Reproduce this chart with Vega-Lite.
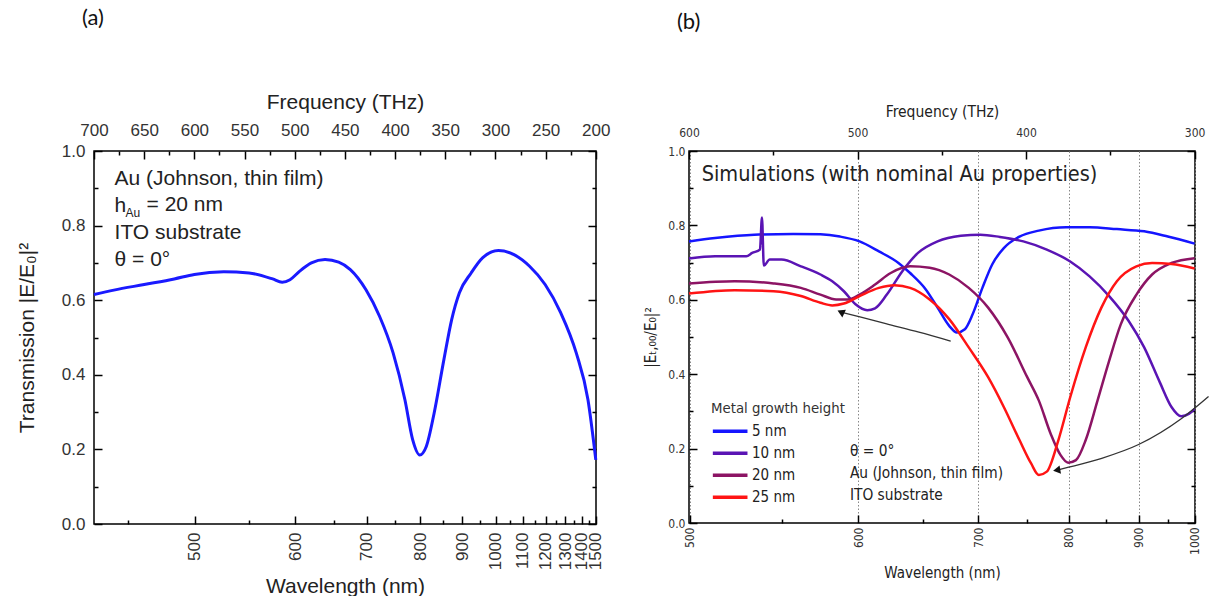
{
  "$schema": "https://vega.github.io/schema/vega-lite/v6.json",
  "padding": {"left": 15, "top": 6, "right": 0, "bottom": 0},
  "background": "white",
  "datasets": {
    "a": [
      {"f": 700, "T": 0.615}, {"f": 680.2, "T": 0.627}, {"f": 650, "T": 0.642}, {"f": 620, "T": 0.657},
      {"f": 600, "T": 0.669}, {"f": 570.7, "T": 0.676}, {"f": 545.5, "T": 0.673}, {"f": 522, "T": 0.657},
      {"f": 512.5, "T": 0.648}, {"f": 504.7, "T": 0.655}, {"f": 495, "T": 0.678}, {"f": 483.4, "T": 0.7},
      {"f": 469.8, "T": 0.709}, {"f": 456.2, "T": 0.702}, {"f": 444.6, "T": 0.682}, {"f": 429, "T": 0.628},
      {"f": 415.5, "T": 0.557}, {"f": 401.9, "T": 0.458}, {"f": 390.2, "T": 0.333}, {"f": 382.5, "T": 0.226},
      {"f": 375.5, "T": 0.185}, {"f": 368.9, "T": 0.208}, {"f": 361.1, "T": 0.297}, {"f": 351.4, "T": 0.44},
      {"f": 343.6, "T": 0.548}, {"f": 335.9, "T": 0.62}, {"f": 324.2, "T": 0.673}, {"f": 312.6, "T": 0.714},
      {"f": 297, "T": 0.733}, {"f": 281.5, "T": 0.722}, {"f": 266, "T": 0.691}, {"f": 250.5, "T": 0.642},
      {"f": 234.9, "T": 0.566}, {"f": 219.4, "T": 0.458}, {"f": 207.8, "T": 0.333}, {"f": 200, "T": 0.172}
    ],
    "b": [
      {"s": "5 nm", "f": 600, "T": 0.757}, {"s": "5 nm", "f": 584.5, "T": 0.766}, {"s": "5 nm", "f": 561.3, "T": 0.775},
      {"s": "5 nm", "f": 538.2, "T": 0.777}, {"s": "5 nm", "f": 522, "T": 0.776}, {"s": "5 nm", "f": 510.4, "T": 0.77},
      {"s": "5 nm", "f": 498.8, "T": 0.757}, {"s": "5 nm", "f": 487.3, "T": 0.73}, {"s": "5 nm", "f": 475.7, "T": 0.699},
      {"s": "5 nm", "f": 468.8, "T": 0.672}, {"s": "5 nm", "f": 459.5, "T": 0.628}, {"s": "5 nm", "f": 452.5, "T": 0.579},
      {"s": "5 nm", "f": 445.6, "T": 0.53}, {"s": "5 nm", "f": 441, "T": 0.512}, {"s": "5 nm", "f": 436.3, "T": 0.521},
      {"s": "5 nm", "f": 431.7, "T": 0.561}, {"s": "5 nm", "f": 425.9, "T": 0.632}, {"s": "5 nm", "f": 420.1, "T": 0.695},
      {"s": "5 nm", "f": 413.2, "T": 0.739}, {"s": "5 nm", "f": 403.9, "T": 0.77}, {"s": "5 nm", "f": 392.4, "T": 0.786},
      {"s": "5 nm", "f": 376.2, "T": 0.795}, {"s": "5 nm", "f": 362.3, "T": 0.795}, {"s": "5 nm", "f": 346.1, "T": 0.79},
      {"s": "5 nm", "f": 329.9, "T": 0.784}, {"s": "5 nm", "f": 315.9, "T": 0.77}, {"s": "5 nm", "f": 300, "T": 0.751},

      {"s": "10 nm", "f": 600, "T": 0.711}, {"s": "10 nm", "f": 584.5, "T": 0.717}, {"s": "10 nm", "f": 566, "T": 0.717},
      {"s": "10 nm", "f": 562.5, "T": 0.726}, {"s": "10 nm", "f": 557.9, "T": 0.735}, {"s": "10 nm", "f": 556.7, "T": 0.821},
      {"s": "10 nm", "f": 555.6, "T": 0.692}, {"s": "10 nm", "f": 552.1, "T": 0.708}, {"s": "10 nm", "f": 545.1, "T": 0.708},
      {"s": "10 nm", "f": 533.6, "T": 0.69}, {"s": "10 nm", "f": 522, "T": 0.668}, {"s": "10 nm", "f": 515, "T": 0.65},
      {"s": "10 nm", "f": 508.1, "T": 0.623}, {"s": "10 nm", "f": 501.2, "T": 0.588}, {"s": "10 nm", "f": 494.2, "T": 0.572},
      {"s": "10 nm", "f": 489.6, "T": 0.577}, {"s": "10 nm", "f": 482.6, "T": 0.614}, {"s": "10 nm", "f": 473.4, "T": 0.677},
      {"s": "10 nm", "f": 464.1, "T": 0.726}, {"s": "10 nm", "f": 452.5, "T": 0.757}, {"s": "10 nm", "f": 438.7, "T": 0.772},
      {"s": "10 nm", "f": 427.1, "T": 0.775}, {"s": "10 nm", "f": 415.5, "T": 0.769}, {"s": "10 nm", "f": 401.6, "T": 0.757},
      {"s": "10 nm", "f": 387.7, "T": 0.735}, {"s": "10 nm", "f": 373.8, "T": 0.703}, {"s": "10 nm", "f": 362.3, "T": 0.663},
      {"s": "10 nm", "f": 350.7, "T": 0.61}, {"s": "10 nm", "f": 339.1, "T": 0.543}, {"s": "10 nm", "f": 329.9, "T": 0.472},
      {"s": "10 nm", "f": 320.6, "T": 0.378}, {"s": "10 nm", "f": 313.7, "T": 0.312}, {"s": "10 nm", "f": 307.9, "T": 0.287},
      {"s": "10 nm", "f": 303.2, "T": 0.294}, {"s": "10 nm", "f": 300, "T": 0.307},

      {"s": "20 nm", "f": 600, "T": 0.644}, {"s": "20 nm", "f": 572.9, "T": 0.65}, {"s": "20 nm", "f": 549.8, "T": 0.644},
      {"s": "20 nm", "f": 533.6, "T": 0.632}, {"s": "20 nm", "f": 522, "T": 0.614}, {"s": "20 nm", "f": 512.7, "T": 0.601},
      {"s": "20 nm", "f": 505.8, "T": 0.601}, {"s": "20 nm", "f": 498.8, "T": 0.614}, {"s": "20 nm", "f": 489.6, "T": 0.641},
      {"s": "20 nm", "f": 480.3, "T": 0.672}, {"s": "20 nm", "f": 468.8, "T": 0.69}, {"s": "20 nm", "f": 457.2, "T": 0.686},
      {"s": "20 nm", "f": 445.6, "T": 0.668}, {"s": "20 nm", "f": 434, "T": 0.632}, {"s": "20 nm", "f": 422.5, "T": 0.579},
      {"s": "20 nm", "f": 410.9, "T": 0.499}, {"s": "20 nm", "f": 399.3, "T": 0.392}, {"s": "20 nm", "f": 392.4, "T": 0.329},
      {"s": "20 nm", "f": 385.4, "T": 0.24}, {"s": "20 nm", "f": 379.6, "T": 0.183}, {"s": "20 nm", "f": 375, "T": 0.162},
      {"s": "20 nm", "f": 370.4, "T": 0.169}, {"s": "20 nm", "f": 364.6, "T": 0.223}, {"s": "20 nm", "f": 357.6, "T": 0.329},
      {"s": "20 nm", "f": 350.7, "T": 0.436}, {"s": "20 nm", "f": 343.8, "T": 0.534}, {"s": "20 nm", "f": 334.5, "T": 0.614},
      {"s": "20 nm", "f": 325.2, "T": 0.668}, {"s": "20 nm", "f": 313.7, "T": 0.699}, {"s": "20 nm", "f": 300, "T": 0.712},

      {"s": "25 nm", "f": 600, "T": 0.617}, {"s": "25 nm", "f": 572.9, "T": 0.626}, {"s": "25 nm", "f": 549.8, "T": 0.623},
      {"s": "25 nm", "f": 533.6, "T": 0.61}, {"s": "25 nm", "f": 522, "T": 0.592}, {"s": "25 nm", "f": 515, "T": 0.585},
      {"s": "25 nm", "f": 508.1, "T": 0.59}, {"s": "25 nm", "f": 498.8, "T": 0.61}, {"s": "25 nm", "f": 487.3, "T": 0.632},
      {"s": "25 nm", "f": 478, "T": 0.639}, {"s": "25 nm", "f": 468.8, "T": 0.632}, {"s": "25 nm", "f": 457.2, "T": 0.601},
      {"s": "25 nm", "f": 445.6, "T": 0.548}, {"s": "25 nm", "f": 434, "T": 0.472}, {"s": "25 nm", "f": 422.5, "T": 0.392},
      {"s": "25 nm", "f": 413.2, "T": 0.312}, {"s": "25 nm", "f": 403.9, "T": 0.223}, {"s": "25 nm", "f": 397, "T": 0.16},
      {"s": "25 nm", "f": 392.4, "T": 0.129}, {"s": "25 nm", "f": 387.7, "T": 0.138}, {"s": "25 nm", "f": 380.8, "T": 0.223},
      {"s": "25 nm", "f": 373.8, "T": 0.338}, {"s": "25 nm", "f": 364.6, "T": 0.472}, {"s": "25 nm", "f": 355.3, "T": 0.579},
      {"s": "25 nm", "f": 346.1, "T": 0.65}, {"s": "25 nm", "f": 334.5, "T": 0.69}, {"s": "25 nm", "f": 325.2, "T": 0.699},
      {"s": "25 nm", "f": 313.7, "T": 0.696}, {"s": "25 nm", "f": 300, "T": 0.684}
    ],
    "arrows": [
      {"arrow": 1, "f": 444.7, "T": 0.489}, {"arrow": 1, "f": 463.6, "T": 0.513}, {"arrow": 1, "f": 483.2, "T": 0.536},
      {"arrow": 1, "f": 497.4, "T": 0.553}, {"arrow": 1, "f": 509.9, "T": 0.567},
      {"arrow": 2, "f": 291.7, "T": 0.34}, {"arrow": 2, "f": 307.7, "T": 0.281}, {"arrow": 2, "f": 333.2, "T": 0.211},
      {"arrow": 2, "f": 355.1, "T": 0.174}, {"arrow": 2, "f": 374.7, "T": 0.15}, {"arrow": 2, "f": 381.8, "T": 0.142}
    ],
    "one": [{"note": 1}]
  },
  "config": {
    "view": {"stroke": "black", "strokeWidth": 1.5},
    "axis": {
      "domain": false, "tickColor": "black", "tickWidth": 1.5, "grid": false, "zindex": 1,
      "labelColor": "#333", "titleColor": "#222", "labelFont": "Liberation Sans", "titleFont": "Liberation Sans",
      "titleFontWeight": "normal", "labelFontSize": 17, "titleFontSize": 21, "labelOverlap": false, "labelFlush": false
    },
    "concat": {"spacing": 32}
  },
  "resolve": {"scale": {"color": "independent"}, "legend": {"color": "independent"}},
  "hconcat": [
    {
      "width": 502, "height": 373,
      "data": {"name": "a"},
      "title": {"text": "(a)", "anchor": "start", "frame": "group", "fontSize": 22, "font": "Lato", "fontWeight": "normal", "color": "#111", "offset": 61, "dx": -12},
      "layer": [
        {
          "mark": {"type": "line", "color": "#1a1aff", "strokeWidth": 3, "interpolate": "monotone"},
          "encoding": {
            "x": {"field": "f", "type": "quantitative", "scale": {"domain": [199.8, 700], "reverse": true, "nice": false, "zero": false},
              "axis": {"orient": "top", "values": [700, 650, 600, 550, 500, 450, 400, 350, 300, 250, 200], "format": "d", "title": "Frequency (THz)", "offset": -8, "tickSize": 8, "labelPadding": 12, "titlePadding": 9}},
            "y": {"field": "T", "type": "quantitative", "scale": {"domain": [0, 1], "nice": false},
              "axis": {"orient": "left", "values": [0, 0.2, 0.4, 0.6, 0.8, 1], "format": ".1f", "title": "Transmission |E/E₀|²", "offset": -8, "tickSize": 8, "labelPadding": 9, "titlePadding": 24}}
          }
        },
        {
          "mark": {"type": "point", "opacity": 0},
          "encoding": {
            "x": {"field": "f", "type": "quantitative", "scale": {"domain": [199.8, 700], "reverse": true, "nice": false, "zero": false},
              "axis": {"orient": "bottom", "values": [599.585, 499.654, 428.275, 374.741, 333.103, 299.792, 272.539, 249.827, 230.610, 214.137, 199.862],
                "labelExpr": "format(round(299792.458/datum.value), 'd')", "labelAngle": -90, "labelAlign": "right", "labelBaseline": "middle",
                "title": "Wavelength (nm)", "offset": -8, "tickSize": 8, "labelPadding": 8, "titlePadding": 6}},
            "y": {"field": "T", "type": "quantitative", "scale": {"domain": [0, 1], "nice": false},
              "axis": {"orient": "right", "values": [0, 0.2, 0.4, 0.6, 0.8, 1], "labels": false, "title": null, "offset": -8, "tickSize": 8}}
          }
        },
        {
          "mark": {"type": "point", "opacity": 0},
          "encoding": {
            "x": {"field": "f", "type": "quantitative", "scale": {"domain": [199.8, 700], "reverse": true, "nice": false, "zero": false},
              "axis": {"orient": "top", "values": [675, 625, 575, 525, 475, 425, 375, 325, 275, 225], "labels": false, "title": null, "offset": -4, "tickSize": 4}},
            "y": {"field": "T", "type": "quantitative", "scale": {"domain": [0, 1], "nice": false},
              "axis": {"orient": "left", "values": [0.1, 0.3, 0.5, 0.7, 0.9], "labels": false, "title": null, "offset": -4, "tickSize": 4}}
          }
        },
        {
          "mark": {"type": "point", "opacity": 0},
          "encoding": {
            "x": {"field": "f", "type": "quantitative", "scale": {"domain": [199.8, 700], "reverse": true, "nice": false, "zero": false},
              "axis": {"orient": "bottom", "values": [666.205, 545.077, 461.219, 399.723, 352.697, 315.571, 285.517, 260.689, 239.834, 222.069, 206.753], "labels": false, "title": null, "offset": -4, "tickSize": 4}},
            "y": {"field": "T", "type": "quantitative", "scale": {"domain": [0, 1], "nice": false},
              "axis": {"orient": "right", "values": [0.1, 0.3, 0.5, 0.7, 0.9], "labels": false, "title": null, "offset": -4, "tickSize": 4}}
          }
        },
        {
          "data": {"name": "one"},
          "mark": {"type": "text", "align": "left", "baseline": "top", "fontSize": 21, "font": "Liberation Sans", "lineHeight": 27, "color": "#222",
            "text": ["Au (Johnson, thin film)", "h", "ITO substrate", "θ = 0°"]},
          "encoding": {
            "x": {"datum": 679.5, "type": "quantitative", "axis": null},
            "y": {"datum": 0.955, "type": "quantitative", "axis": null}
          }
        },
        {
          "data": {"name": "one"},
          "mark": {"type": "text", "align": "left", "baseline": "middle", "fontSize": 12, "font": "Liberation Sans", "color": "#222", "text": "Au", "dx": 11, "dy": 8},
          "encoding": {
            "x": {"datum": 679.5, "type": "quantitative", "axis": null},
            "y": {"datum": 0.855, "type": "quantitative", "axis": null}
          }
        },
        {
          "data": {"name": "one"},
          "mark": {"type": "text", "align": "left", "baseline": "middle", "fontSize": 21, "font": "Liberation Sans", "color": "#222", "text": "= 20 nm", "dx": 32},
          "encoding": {
            "x": {"datum": 679.5, "type": "quantitative", "axis": null},
            "y": {"datum": 0.855, "type": "quantitative", "axis": null}
          }
        }
      ],
      "resolve": {"axis": {"x": "independent", "y": "independent"}}
    },
    {
      "width": 506, "height": 372,
      "data": {"name": "b"},
      "title": {"text": "(b)", "anchor": "start", "frame": "group", "fontSize": 22, "font": "Lato", "fontWeight": "normal", "color": "#111", "offset": 70, "dx": -12},
      "layer": [
        {
          "mark": {"type": "line", "strokeWidth": 2.5, "interpolate": "monotone"},
          "encoding": {
            "x": {"field": "f", "type": "quantitative", "scale": {"domain": [299.75, 600], "reverse": true, "nice": false, "zero": false},
              "axis": {"orient": "top", "values": [600, 500, 400, 300], "format": "d", "title": "Frequency (THz)", "offset": -8, "tickSize": 8, "labelPadding": 12, "titlePadding": 7,
                "labelFont": "DejaVu Sans Condensed, Liberation Sans", "titleFont": "DejaVu Sans Condensed, Liberation Sans", "labelFontSize": 12, "titleFontSize": 15.5}},
            "y": {"field": "T", "type": "quantitative", "scale": {"domain": [0, 1], "nice": false},
              "axis": {"orient": "left", "values": [0, 0.2, 0.4, 0.6, 0.8, 1], "format": ".1f", "title": "|Eₜ,₀₀/E₀|²", "offset": -8, "tickSize": 8, "labelPadding": 4, "titlePadding": 9,
                "labelFont": "DejaVu Sans Condensed, Liberation Sans", "titleFont": "DejaVu Sans Condensed, Liberation Sans", "labelFontSize": 12, "titleFontSize": 15}},
            "color": {"field": "s", "type": "nominal",
              "scale": {"domain": ["5 nm", "10 nm", "20 nm", "25 nm"], "range": ["#1515ff", "#5a14b4", "#8c1464", "#ff1414"]},
              "legend": {"orient": "none", "legendX": 22, "legendY": 250, "title": "Metal growth height", "symbolType": "M-1,0H3", "symbolStrokeWidth": 3.5,
                "symbolSize": 300, "labelFont": "DejaVu Sans Condensed, Liberation Sans", "titleFont": "DejaVu Sans Condensed, Liberation Sans", "labelFontSize": 15, "titleFontSize": 14.8,
                "titleFontWeight": "normal", "titleColor": "#333", "labelColor": "#222", "rowPadding": 3, "labelOffset": 20, "padding": 0, "titlePadding": 5}}
          }
        },
        {
          "mark": {"type": "point", "opacity": 0},
          "encoding": {
            "x": {"field": "f", "type": "quantitative", "scale": {"domain": [299.75, 600], "reverse": true, "nice": false, "zero": false},
              "axis": {"orient": "bottom", "values": [599.585, 499.654, 428.275, 374.741, 333.103, 299.792], "zindex": 0,
                "labelExpr": "format(round(299792.458/datum.value), 'd')", "labelAngle": -90, "labelAlign": "right", "labelBaseline": "middle",
                "title": "Wavelength (nm)", "offset": -8, "tickSize": 8, "labelPadding": 4, "titlePadding": 11,
                "grid": true, "gridDash": [1.5, 2], "gridColor": "#888", "gridWidth": 1,
                "labelFont": "DejaVu Sans Condensed, Liberation Sans", "titleFont": "DejaVu Sans Condensed, Liberation Sans", "labelFontSize": 12, "titleFontSize": 15}},
            "y": {"field": "T", "type": "quantitative", "scale": {"domain": [0, 1], "nice": false},
              "axis": {"orient": "right", "values": [0, 0.2, 0.4, 0.6, 0.8, 1], "labels": false, "title": null, "offset": -8, "tickSize": 8}}
          }
        },
        {
          "mark": {"type": "point", "opacity": 0},
          "encoding": {
            "x": {"field": "f", "type": "quantitative", "scale": {"domain": [299.75, 600], "reverse": true, "nice": false, "zero": false},
              "axis": {"orient": "top", "values": [550, 450, 350], "labels": false, "title": null, "offset": -4, "tickSize": 4}},
            "y": {"field": "T", "type": "quantitative", "scale": {"domain": [0, 1], "nice": false},
              "axis": {"orient": "left", "values": [0.1, 0.3, 0.5, 0.7, 0.9], "labels": false, "title": null, "offset": -4, "tickSize": 4}}
          }
        },
        {
          "mark": {"type": "point", "opacity": 0},
          "encoding": {
            "x": {"field": "f", "type": "quantitative", "scale": {"domain": [299.75, 600], "reverse": true, "nice": false, "zero": false},
              "axis": {"orient": "bottom", "values": [545.077, 461.219, 399.723, 352.697, 315.571], "labels": false, "title": null, "offset": -4, "tickSize": 4}},
            "y": {"field": "T", "type": "quantitative", "scale": {"domain": [0, 1], "nice": false},
              "axis": {"orient": "right", "values": [0.1, 0.3, 0.5, 0.7, 0.9], "labels": false, "title": null, "offset": -4, "tickSize": 4}}
          }
        },
        {
          "data": {"name": "arrows"},
          "mark": {"type": "line", "color": "#333", "strokeWidth": 1.3, "interpolate": "monotone", "clip": false},
          "encoding": {
            "x": {"field": "f", "type": "quantitative", "axis": null},
            "y": {"field": "T", "type": "quantitative", "axis": null},
            "detail": {"field": "arrow", "type": "nominal"}
          }
        },
        {
          "data": {"name": "arrows"},
          "transform": [{"filter": "datum.arrow == 1 && datum.f > 509"}],
          "mark": {"type": "point", "shape": "triangle-left", "filled": true, "color": "#111", "size": 70, "opacity": 1, "angle": 25},
          "encoding": {
            "x": {"field": "f", "type": "quantitative", "axis": null},
            "y": {"field": "T", "type": "quantitative", "axis": null}
          }
        },
        {
          "data": {"name": "arrows"},
          "transform": [{"filter": "datum.arrow == 2 && datum.f > 381"}],
          "mark": {"type": "point", "shape": "triangle-left", "filled": true, "color": "#111", "size": 70, "opacity": 1, "angle": -10},
          "encoding": {
            "x": {"field": "f", "type": "quantitative", "axis": null},
            "y": {"field": "T", "type": "quantitative", "axis": null}
          }
        },
        {
          "data": {"name": "one"},
          "mark": {"type": "text", "align": "left", "baseline": "middle", "fontSize": 21.5, "font": "DejaVu Sans Condensed, Liberation Sans", "color": "#222", "text": "Simulations (with nominal Au properties)"},
          "encoding": {
            "x": {"datum": 592.5, "type": "quantitative", "axis": null},
            "y": {"datum": 0.935, "type": "quantitative", "axis": null}
          }
        },
        {
          "data": {"name": "one"},
          "mark": {"type": "text", "align": "left", "baseline": "top", "fontSize": 15.3, "font": "DejaVu Sans Condensed, Liberation Sans", "lineHeight": 22, "color": "#222",
            "text": ["θ = 0°", "Au (Johnson, thin film)", "ITO substrate"]},
          "encoding": {
            "x": {"datum": 504.5, "type": "quantitative", "axis": null},
            "y": {"datum": 0.212, "type": "quantitative", "axis": null}
          }
        }
      ],
      "resolve": {"axis": {"x": "independent", "y": "independent"}}
    }
  ]
}
